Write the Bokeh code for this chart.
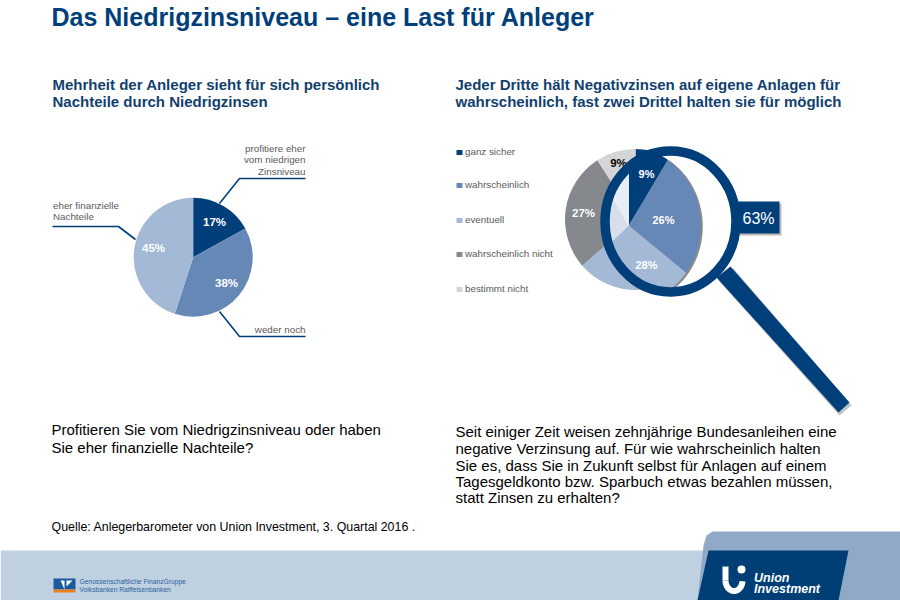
import numpy as np
from bokeh.plotting import figure
from bokeh.models import Range1d
from bokeh.core.properties import value
from bokeh.embed import file_html
from bokeh.resources import INLINE

# --- data ---
left_names = ["profitiere eher vom niedrigen Zinsniveau", "weder noch", "eher finanzielle Nachteile"]
left_values = [17, 38, 45]
right_names = ["ganz sicher", "wahrscheinlich", "eventuell", "wahrscheinlich nicht", "bestimmt nicht"]
right_values = [9, 26, 28, 27, 9]
highlight_share = 63

NAVY = "#003f7a"; MID = "#6688b6"; LIGHT = "#a4b9d6"; GREY = "#85898e"; PALE = "#d4d5d7"
left_colors = [NAVY, MID, LIGHT]
right_colors = [NAVY, MID, LIGHT, GREY, PALE]
lens_colors = [NAVY, MID, LIGHT, "#d8dfeb", "#e8eef8"]
FONT = value("Liberation Sans")

p = figure(width=900, height=600, output_backend="svg", toolbar_location=None,
           x_range=Range1d(0, 900), y_range=Range1d(600, 0),
           min_border=0, min_border_left=0, min_border_right=0, min_border_top=0, min_border_bottom=0)
p.axis.visible = False
p.grid.visible = False
p.outline_line_color = None
p.background_fill_color = "white"


def txt(x, y, s, size, color="black", bold=False, italic=False, align="left"):
    style = "bold italic" if bold and italic else "bold" if bold else "italic" if italic else "normal"
    p.text([x], [y], text=[s], text_font=FONT, text_font_size=f"{size}px", text_color=color,
           text_font_style=style, text_align=align, text_baseline="middle")


def spans(vals):
    a = np.cumsum([0] + list(vals)) / sum(vals) * 2 * np.pi
    return a[:-1], a[1:]


def pie(cx, cy, r, vals, cols):
    s, e = spans(vals)
    for a0, a1, c in zip(s, e, cols):
        p.wedge([cx], [cy], radius=r, start_angle=np.pi / 2 - a1, end_angle=np.pi / 2 - a0,
                fill_color=c, line_color=None)


# --- footer band ---
p.quad(left=[0], right=[900], top=[550], bottom=[600], fill_color="#bfd0e1", line_color=None)
p.patch([697, 703, 706, 712, 900, 900], [600, 545, 535, 531, 531, 600], fill_color="#8fa9c7", line_color=None)
p.patch([708, 848, 838, 697], [550, 550, 600, 600], fill_color="#003f75", line_color=None)
# Union Investment mark
t = np.linspace(np.pi * 0.02, np.pi * 1.0, 40)
p.line(733.5 + 8.5 * np.cos(t), 580 + 10.5 * np.sin(t), line_color="white", line_width=6)
p.line([725, 725], [580, 566], line_color="white", line_width=6)
p.scatter([741], [569], size=8, marker="circle", fill_color="white", line_color=None)
txt(753.5, 577, "Union", 12.5, "white", bold=True, italic=True)
txt(753.5, 588, "Investment", 12.5, "white", bold=True, italic=True)
# cooperative bank mark
p.quad(left=[53], right=[75], top=[578], bottom=[589], fill_color="#1a5a9e", line_color=None)
p.quad(left=[53], right=[75], top=[589], bottom=[592], fill_color="#ee7f1a", line_color=None)
p.patch([60, 64, 64], [580, 580, 589], fill_color="white", line_color=None)
p.patch([66, 72, 66], [580, 580, 586], fill_color="white", line_color=None)
txt(79, 581, "Genossenschaftliche FinanzGruppe", 6.7, "#2a62a0")
txt(79, 589, "Volksbanken Raiffeisenbanken", 6.7, "#2a62a0")

# --- titles ---
txt(51, 16.5, "Das Niedrigzinsniveau – eine Last für Anleger", 25, NAVY, bold=True)
txt(52, 84, "Mehrheit der Anleger sieht für sich persönlich", 15, "#123f6e", bold=True)
txt(52, 101, "Nachteile durch Niedrigzinsen", 15, "#123f6e", bold=True)
txt(455, 84, "Jeder Dritte hält Negativzinsen auf eigene Anlagen für", 15, "#123f6e", bold=True)
txt(455, 101, "wahrscheinlich, fast zwei Drittel halten sie für möglich", 15, "#123f6e", bold=True)

# --- left pie ---
pie(192.7, 256.7, 59.5, left_values, left_colors)
for x, y, v in zip([214, 226, 153], [221, 282, 247], left_values):
    txt(x, y, f"{v}%", 11.5, "white", bold=True, align="center")
p.line([219, 239, 305], [203, 178, 178], line_color=NAVY, line_width=1.6)
p.line([52, 118, 135], [226, 226, 239], line_color=NAVY, line_width=1.6)
p.line([219, 239, 305], [311, 336, 336], line_color=NAVY, line_width=1.6)
LBL = "#5a5a5a"
for y, s in zip([147.5, 159, 170.5], ["profitiere eher", "vom niedrigen", "Zinsniveau"]):
    txt(305, y, s, 9.8, LBL, align="right")
txt(52.5, 205, "eher finanzielle", 9.8, LBL)
txt(52.5, 216, "Nachteile", 9.8, LBL)
txt(305, 329, "weder noch", 9.8, LBL, align="right")

# --- legend ---
for y, s, c in zip([152, 185, 220, 254, 289], right_names, right_colors):
    p.quad(left=[456], right=[462], top=[y - 2.5], bottom=[y + 2.5], fill_color=c, line_color=None)
    txt(464.5, y - 1.5, s, 9.8, LBL)

# --- right pie, seen through the magnifier ---
pie(635, 219, 70.5, right_values, right_colors)
txt(618, 162, f"{right_values[4]}%", 11.5, "black", bold=True, align="center")
txt(583, 212, f"{right_values[3]}%", 11.5, "white", bold=True, align="center")

# the lens is slightly taller than wide in the reference
LX, LY, LRX, LRY = 670, 221, 63, 68
PX, PY, PRX, PRY = 628.3, 225, 72, 78


def clipped(a0, a1, cx=PX, cy=PY):
    th = np.linspace(a0, a1, 60)
    dx, dy = np.sin(th) * PRX, -np.cos(th) * PRY
    # ray from the pie centre, in a space where the lens is the unit circle
    ox, oy = (cx - LX) / LRX, (cy - LY) / LRY
    ux, uy = dx / LRX, dy / LRY
    A = ux ** 2 + uy ** 2
    B = ox * ux + oy * uy
    C = ox ** 2 + oy ** 2 - 1
    k = np.minimum(1.0, (-B + np.sqrt(B ** 2 - A * C)) / A)
    return [cx] + list(cx + k * dx), [cy] + list(cy + k * dy)


# handle shadow and handle
p.patch([718, 733, 851, 839], [280, 268, 405, 415], fill_color="#9a9a9a", fill_alpha=0.6, line_color=None)
p.patch([716, 730, 849, 838], [277, 266, 402, 412], fill_color=NAVY, line_color=None)
# value box
p.quad(left=[735], right=[781], top=[203], bottom=[235], fill_color="#bbbbbb", line_color=None)
p.quad(left=[735], right=[779], top=[201], bottom=[233], fill_color=NAVY, line_color=None)
txt(758, 217.5, f"{highlight_share}%", 16, "white", align="center")
# lens
p.ellipse([LX], [LY], width=2 * LRX, height=2 * LRY, fill_color="white", line_color=None)
s, e = spans(right_values)
xs, ys = clipped(s[0], e[2], PX + 2, PY + 1)
p.patch(xs, ys, fill_color="#8a8a8a", line_color=None)
for a0, a1, c in zip(s, e, lens_colors):
    xs, ys = clipped(a0, a1)
    p.patch(xs, ys, fill_color=c, line_color=None)
p.ellipse([LX], [LY], width=131, height=141, fill_color=None, line_color=NAVY, line_width=9.5)
for x, y, v in zip([646, 663, 646], [173, 219, 264], right_values[:3]):
    txt(x, y, f"{v}%", 11, "white", bold=True, align="center")

# --- questions ---
txt(51, 429, "Profitieren Sie vom Niedrigzinsniveau oder haben", 15)
txt(51, 447, "Sie eher finanzielle Nachteile?", 15)
for y, s in zip([431, 448, 465, 481, 497],
                ["Seit einiger Zeit weisen zehnjährige Bundesanleihen eine",
                 "negative Verzinsung auf. Für wie wahrscheinlich halten",
                 "Sie es, dass Sie in Zukunft selbst für Anlagen auf einem",
                 "Tagesgeldkonto bzw. Sparbuch etwas bezahlen müssen,",
                 "statt Zinsen zu erhalten?"]):
    txt(455, y, s, 15)
txt(51, 526, "Quelle: Anlegerbarometer von Union Investment, 3. Quartal 2016 .", 12.4)

open("out.html", "w").write(file_html(p, INLINE))
